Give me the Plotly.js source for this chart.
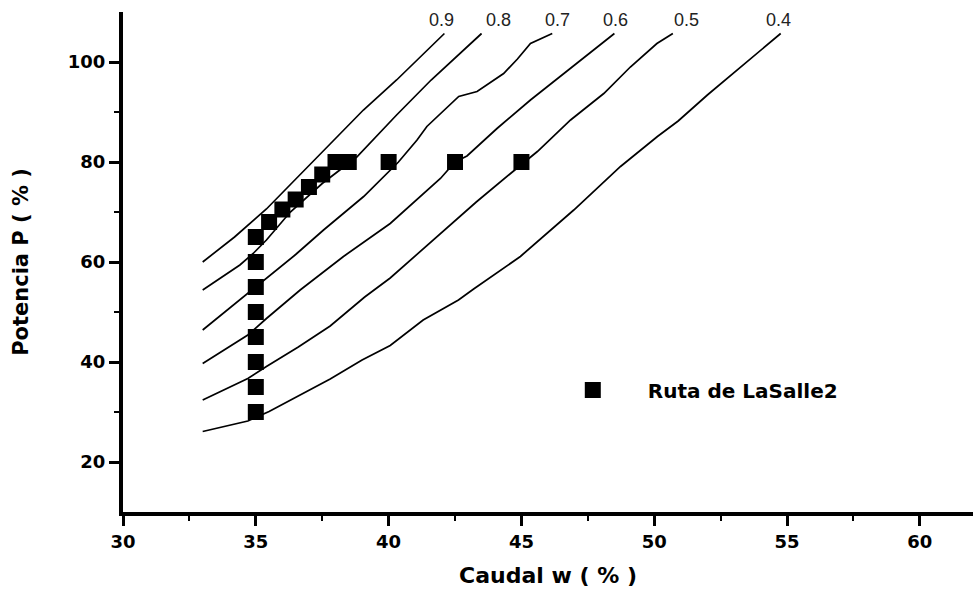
<!DOCTYPE html>
<html>
<head>
<meta charset="utf-8">
<script src="https://cdn.plot.ly/plotly-3.0.1.min.js"></script>
<style>html,body{margin:0;padding:0;background:#fff;}#chart{width:973px;height:593px;}</style>
</head>
<body>
<div id="chart"></div>
<script>
// Route points (Ruta de LaSalle2)
const routeX = [35, 35, 35, 35, 35, 35, 35, 35, 35.5, 36, 36.5, 37, 37.5, 38, 38.5, 40, 42.5, 45];
const routeY = [30, 35, 40, 45, 50, 55, 60, 65, 68, 70.5, 72.5, 75, 77.5, 80, 80, 80, 80, 80];

// Iso-efficiency curves
const c09x = [33, 34.2, 35.4, 36.7, 37.8, 39.05, 40.3, 41.6, 42.1];
const c09y = [60.0, 65.0, 70.6, 77.7, 83.7, 90.4, 96.4, 103.1, 105.7];

const c08x = [33, 34.4, 34.9, 35.4, 36.3, 37.5, 38.8, 40.3, 41.6, 42.85, 43.5];
const c08y = [54.4, 59.4, 61.7, 64.4, 70.0, 75.7, 81.0, 89.4, 96.4, 102.4, 105.7];

const c07x = [33, 34.4, 35.4, 36.5, 37.55, 39.06, 40.37, 41.07, 41.44, 42.64, 43.33, 44.33, 44.85, 45.34, 46.16];
const c07y = [46.4, 52.4, 56.7, 61.5, 66.4, 73.1, 80.0, 84.4, 87.1, 93.1, 94.1, 97.7, 100.6, 103.7, 105.7];

const c06x = [33, 34.7, 35.4, 36.67, 38.3, 40.06, 41.95, 42.5, 42.95, 44.08, 45.34, 46.6, 47.85, 48.5];
const c06y = [39.7, 45.4, 48.7, 54.4, 61.1, 67.7, 76.7, 80.0, 81.2, 86.7, 92.4, 97.7, 103.1, 105.7];

const c05x = [33, 34.7, 35.4, 36.6, 37.8, 39.1, 40.06, 41.95, 43.3, 44.59, 45.6, 46.85, 48.1, 49.1, 50.1, 50.7];
const c05y = [32.4, 36.7, 39.1, 43.0, 47.2, 53.0, 56.8, 65.7, 72.0, 77.7, 82.1, 88.4, 93.7, 99.0, 103.7, 105.7];

const c04x = [33, 34.7, 35.5, 36.6, 37.8, 39.0, 40.06, 41.3, 42.63, 43.2, 44.96, 46.97, 48.73, 50.12, 50.9, 52.0, 53.26, 54.76];
const c04y = [26.1, 28.2, 30.1, 33.2, 36.6, 40.4, 43.3, 48.4, 52.4, 54.6, 61.1, 70.4, 79.1, 85.1, 88.2, 93.4, 99.1, 105.7];

const curveLabels = ['0.9', '0.8', '0.7', '0.6', '0.5', '0.4'];
const labelX = [41.99, 44.13, 46.36, 48.55, 51.22, 54.69];
const labelY = [108.5, 108.5, 108.5, 108.5, 108.5, 108.5];

const xMajor = [30, 35, 40, 45, 50, 55, 60];
const xMinor = [32.5, 37.5, 42.5, 47.5, 52.5, 57.5];
const yMajor = [20, 40, 60, 80, 100];
const yMinor = [30, 50, 70, 90];

const curves = [[c09x, c09y], [c08x, c08y], [c07x, c07y], [c06x, c06y], [c05x, c05y], [c04x, c04y]];

const traces = curves.map((c, i) => ({
  x: c[0], y: c[1], type: 'scatter', mode: 'lines',
  line: {color: '#000', width: 1.7},
  showlegend: false, hoverinfo: 'skip', name: curveLabels[i]
}));

traces.push({
  x: routeX, y: routeY, type: 'scatter', mode: 'markers',
  name: 'Ruta de LaSalle2',
  marker: {symbol: 'square', size: 16, color: '#000'}
});

const tickFont = {family: 'DejaVu Sans', size: 18, color: '#000', weight: 'bold'};

const layout = {
  width: 973, height: 593,
  margin: {l: 123, r: 0, t: 12, b: 81},
  paper_bgcolor: '#fff', plot_bgcolor: '#fff',
  showlegend: true,
  legend: {
    x: 0.488, y: 0.244, xanchor: 'left', yanchor: 'middle',
    bgcolor: 'rgba(0,0,0,0)', itemwidth: 100,
    font: {family: 'DejaVu Sans', size: 20, color: '#000', weight: 'bold'}
  },
  xaxis: {
    range: [30, 62], tickmode: 'array', tickvals: xMajor,
    ticks: 'outside', ticklen: 10, tickwidth: 3, tickcolor: '#000',
    showline: true, linewidth: 4, linecolor: '#000',
    showgrid: false, zeroline: false, tickfont: tickFont,
    minor: {tickmode: 'array', tickvals: xMinor, ticks: 'outside', ticklen: 5, tickwidth: 2, tickcolor: '#000', showgrid: false},
    title: {text: 'Caudal w ( % )', standoff: 18, font: {family: 'DejaVu Sans', size: 22, color: '#000', weight: 'bold'}}
  },
  yaxis: {
    range: [10, 110], tickmode: 'array', tickvals: yMajor,
    ticks: 'outside', ticklen: 10, tickwidth: 3, tickcolor: '#000',
    showline: true, linewidth: 4, linecolor: '#000',
    showgrid: false, zeroline: false, tickfont: tickFont,
    minor: {tickmode: 'array', tickvals: yMinor, ticks: 'outside', ticklen: 5, tickwidth: 2, tickcolor: '#000', showgrid: false},
    title: {text: 'Potencia P ( % )', standoff: 34, font: {family: 'DejaVu Sans', size: 21, color: '#000', weight: 'bold'}}
  },
  annotations: curveLabels.map((t, i) => ({
    x: labelX[i], y: labelY[i], xref: 'x', yref: 'y', text: t, showarrow: false,
    xanchor: 'center', yanchor: 'middle',
    font: {family: 'Liberation Sans', size: 18, color: '#222'}
  }))
};

Plotly.newPlot('chart', traces, layout, {displayModeBar: false, staticPlot: true});
</script>
</body>
</html>
